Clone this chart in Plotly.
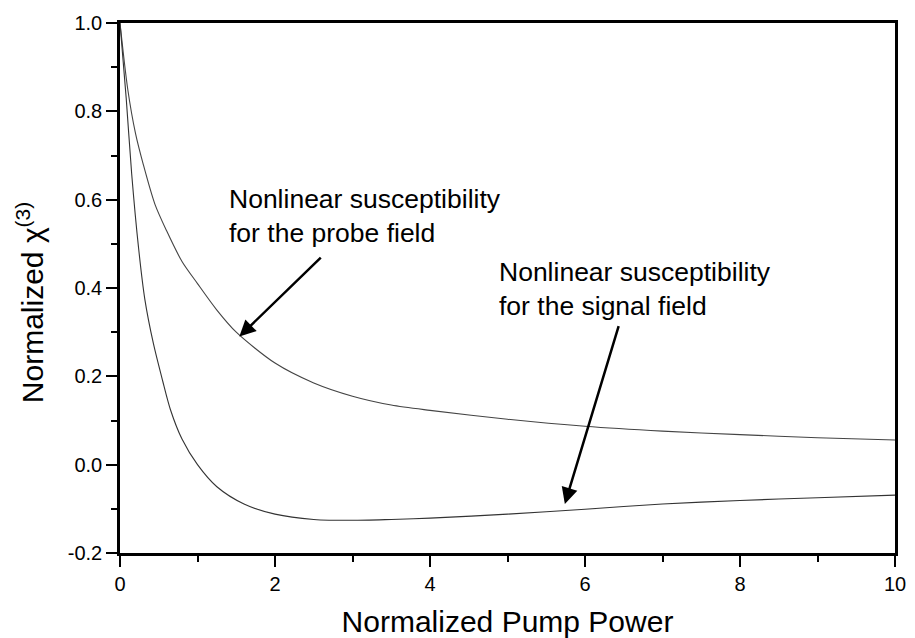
import plotly.graph_objects as go

# Data
probe_x = [0, 0.1, 0.2, 0.3, 0.45, 0.6, 0.8, 1.0, 1.25, 1.5, 2.0, 2.5, 3.0, 3.5, 4.0, 5.0, 6.0, 7.0, 8.0, 9.0, 10.0]
probe_y = [1.0, 0.85, 0.75, 0.68, 0.59, 0.53, 0.46, 0.41, 0.35, 0.30, 0.23, 0.185, 0.155, 0.135, 0.123, 0.103, 0.087, 0.076, 0.068, 0.061, 0.056]

signal_x = [0, 0.08, 0.15, 0.24, 0.32, 0.43, 0.55, 0.65, 0.8, 1.0, 1.25, 1.6, 2.0, 2.5, 3.0, 3.5, 4.0, 5.0, 6.0, 7.0, 8.0, 9.0, 10.0]
signal_y = [1.0, 0.83, 0.66, 0.49, 0.375, 0.275, 0.19, 0.125, 0.058, 0.0, -0.05, -0.089, -0.112, -0.124, -0.126, -0.124, -0.121, -0.112, -0.101, -0.089, -0.081, -0.075, -0.069]

x_ticks = [0, 2, 4, 6, 8, 10]
x_ticktext = ["0", "2", "4", "6", "8", "10"]
y_ticks = [-0.2, 0.0, 0.2, 0.4, 0.6, 0.8, 1.0]
y_ticktext = ["-0.2", "0.0", "0.2", "0.4", "0.6", "0.8", "1.0"]

x_title = "Normalized Pump Power"
y_title = "Normalized χ<sup>(3)</sup>"
probe_label = "Nonlinear susceptibility<br>for the probe field"
signal_label = "Nonlinear susceptibility<br>for the signal field"

FONT = "Liberation Sans, Arial, sans-serif"

fig = go.Figure()
fig.add_trace(go.Scatter(x=probe_x, y=probe_y, mode="lines",
                         line=dict(color="#444444", width=1.1, shape="spline", smoothing=0.8),
                         showlegend=False, name="probe"))
fig.add_trace(go.Scatter(x=signal_x, y=signal_y, mode="lines",
                         line=dict(color="#333333", width=1.1, shape="spline", smoothing=0.8),
                         showlegend=False, name="signal"))

# text annotations
fig.add_annotation(x=1.375, y=0.562, xref="x", yref="y", text=probe_label, showarrow=False,
                   xanchor="left", yanchor="middle", align="left",
                   font=dict(family=FONT, size=26.5, color="black"))
fig.add_annotation(x=4.86, y=0.398, xref="x", yref="y", text=signal_label, showarrow=False,
                   xanchor="left", yanchor="middle", align="left",
                   font=dict(family=FONT, size=26.5, color="black"))
# y-axis title (rotated text)
fig.add_annotation(x=-0.1157, y=0.472, xref="paper", yref="paper", text=y_title, showarrow=False,
                   textangle=-90, xanchor="center", yanchor="middle",
                   font=dict(family=FONT, size=30, color="black"))
# arrows
fig.add_annotation(x=1.54, y=0.29, ax=2.61, ay=0.472, xref="x", yref="y", axref="x", ayref="y",
                   text="", showarrow=True, arrowhead=2, arrowsize=1.3, arrowwidth=2.5,
                   arrowcolor="black", standoff=0)
fig.add_annotation(x=5.74, y=-0.089, ax=6.44, ay=0.317, xref="x", yref="y", axref="x", ayref="y",
                   text="", showarrow=True, arrowhead=2, arrowsize=1.3, arrowwidth=2.5,
                   arrowcolor="black", standoff=0)

fig.update_layout(
    width=915, height=638,
    margin=dict(l=120, r=20, t=23, b=85),
    paper_bgcolor="white", plot_bgcolor="white",
    font=dict(family=FONT, color="black"),
)
fig.update_xaxes(
    range=[0, 10], tickvals=x_ticks, ticktext=x_ticktext,
    showgrid=False, zeroline=False, automargin=False,
    showline=True, linecolor="black", linewidth=2.5, mirror=True,
    ticks="outside", ticklen=11, tickwidth=2, tickcolor="black",
    minor=dict(dtick=1, ticks="outside", ticklen=6, tickwidth=2, tickcolor="black", showgrid=False),
    tickfont=dict(family=FONT, size=20, color="black"),
    ticklabeloverflow="allow",
    title=dict(text=x_title, font=dict(family=FONT, size=30, color="black"), standoff=18),
)
fig.update_yaxes(
    range=[-0.2, 1.0], tickvals=y_ticks, ticktext=y_ticktext,
    showgrid=False, zeroline=False, automargin=False,
    showline=True, linecolor="black", linewidth=2.5, mirror=True,
    ticks="outside", ticklen=11, tickwidth=2, tickcolor="black",
    minor=dict(dtick=0.1, ticks="outside", ticklen=6, tickwidth=2, tickcolor="black", showgrid=False),
    tickfont=dict(family=FONT, size=20, color="black"),
)

fig.write_html("out.html", config={"displayModeBar": False},
               post_script="document.documentElement.style.overflow='hidden';"
                           "document.body.style.margin='0';document.body.style.overflow='hidden';")
